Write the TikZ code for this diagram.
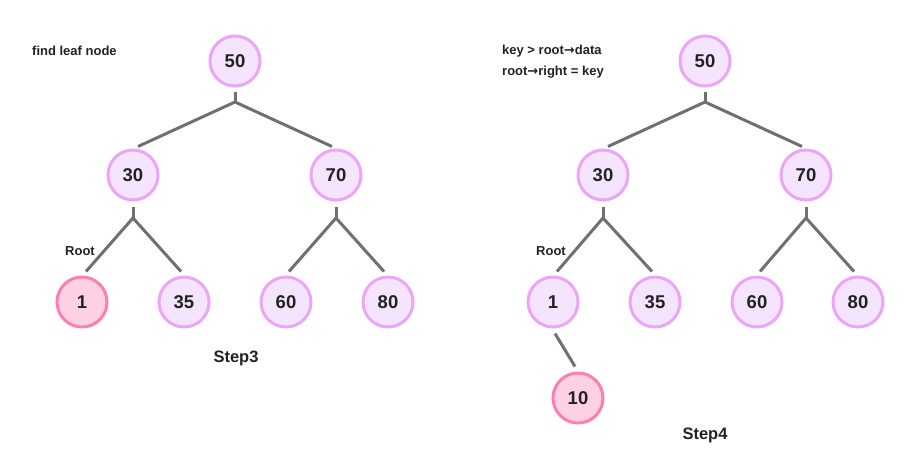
\documentclass[tikz,border=0pt]{standalone}
\usepackage{fontspec}
\setmainfont{Liberation Sans}
\newfontfamily\arrowfont{DejaVu Sans}
\usetikzlibrary{positioning, arrows.meta, calc}
\definecolor{nodeFill}{HTML}{F4E4FD}
\definecolor{nodeLine}{HTML}{EBA6F8}
\definecolor{hitFill}{HTML}{FFD1E2}
\definecolor{hitLine}{HTML}{FF7FB0}
\definecolor{edgeGrey}{HTML}{707070}
\definecolor{textDark}{HTML}{222222}
\newcommand{\ptr}{{\arrowfont\bfseries →}}
\tikzstyle{bstnode} =[circle, draw=nodeLine, fill=nodeFill, line width=3pt, minimum size=50pt, inner sep=0pt, text=textDark, font=\fontsize{18.5}{20}\selectfont\bfseries]
\tikzstyle{hitnode} =[bstnode, draw=hitLine, fill=hitFill]
\tikzstyle{treeedge} =[draw=edgeGrey, line width=3pt]
\tikzstyle{note} =[text=textDark, font=\fontsize{13}{15}\selectfont\bfseries, inner sep=0pt]
\tikzstyle{steplabel} =[note, font=\fontsize{16.5}{18}\selectfont\bfseries]

\begin{document}
\begin{tikzpicture}[x=1pt, y=-1pt]
\useasboundingbox (0,0) rectangle (912,474);

% Step3
\node (aFifty) [bstnode] at (235,61) {50};
\node (aThirty) [bstnode] at (133,175) {30};
\node (aSeventy) [bstnode] at (336,175) {70};
\node (aOne) [hitnode] at (82,302) {1};
\node (aThirtyFive) [bstnode] at (184,302) {35};
\node (aSixty) [bstnode] at (286,302) {60};
\node (aEighty) [bstnode] at (388,302) {80};

\coordinate (aJoinTop) at (235,102);
\coordinate (aJoinL) at (133,218);
\coordinate (aJoinR) at (336,218);

\draw[treeedge, shorten <=4.5pt] (aFifty) -- (aJoinTop);
\draw[treeedge] (aJoinTop) -- ([shift={(5,-2)}]aThirty.north);
\draw[treeedge] (aJoinTop) -- ([shift={(-4,-2)}]aSeventy.north);
\draw[treeedge, shorten <=5pt] (aThirty) -- (aJoinL);
\draw[treeedge] (aJoinL) -- ([shift={(4,-4)}]aOne.north);
\draw[treeedge] (aJoinL) -- ([shift={(-3,-4)}]aThirtyFive.north);
\draw[treeedge, shorten <=5pt] (aSeventy) -- (aJoinR);
\draw[treeedge] (aJoinR) -- ([shift={(3,-4)}]aSixty.north);
\draw[treeedge] (aJoinR) -- ([shift={(-4,-4)}]aEighty.north);

\node (findLeaf) [note, anchor=west] at (32,51) {find leaf node};
\node (aRoot) [note, anchor=west] at (65,251) {Root};
\node (stepThree) [steplabel] at (236,358) {Step3};

% Step4
\node (bFifty) [bstnode] at (705,61) {50};
\node (bThirty) [bstnode] at (603,175) {30};
\node (bSeventy) [bstnode] at (806,175) {70};
\node (bOne) [bstnode] at (553,302) {1};
\node (bThirtyFive) [bstnode] at (655,302) {35};
\node (bSixty) [bstnode] at (757,302) {60};
\node (bEighty) [bstnode] at (858,302) {80};
\node (bTen) [hitnode] at (578,398) {10};

\coordinate (bJoinTop) at (705,102);
\coordinate (bJoinL) at (603,218);
\coordinate (bJoinR) at (806,218);

\draw[treeedge, shorten <=4.5pt] (bFifty) -- (bJoinTop);
\draw[treeedge] (bJoinTop) -- ([shift={(5,-2)}]bThirty.north);
\draw[treeedge] (bJoinTop) -- ([shift={(-4,-2)}]bSeventy.north);
\draw[treeedge, shorten <=5pt] (bThirty) -- (bJoinL);
\draw[treeedge] (bJoinL) -- ([shift={(4,-4)}]bOne.north);
\draw[treeedge] (bJoinL) -- ([shift={(-3,-4)}]bThirtyFive.north);
\draw[treeedge, shorten <=5pt] (bSeventy) -- (bJoinR);
\draw[treeedge] (bJoinR) -- ([shift={(3,-4)}]bSixty.north);
\draw[treeedge] (bJoinR) -- ([shift={(-4,-4)}]bEighty.north);
\draw[treeedge] ([shift={(2,5)}]bOne.south) -- ([shift={(-3,-5)}]bTen.north);

\node (keyTest) [note, anchor=west] at (502,51) {key > root\ptr data};
\node (keySet) [note, anchor=west] at (502,72) {root\ptr right = key};
\node (bRoot) [note, anchor=west] at (536,251) {Root};
\node (stepFour) [steplabel] at (705,435) {Step4};

\end{tikzpicture}
\end{document}
